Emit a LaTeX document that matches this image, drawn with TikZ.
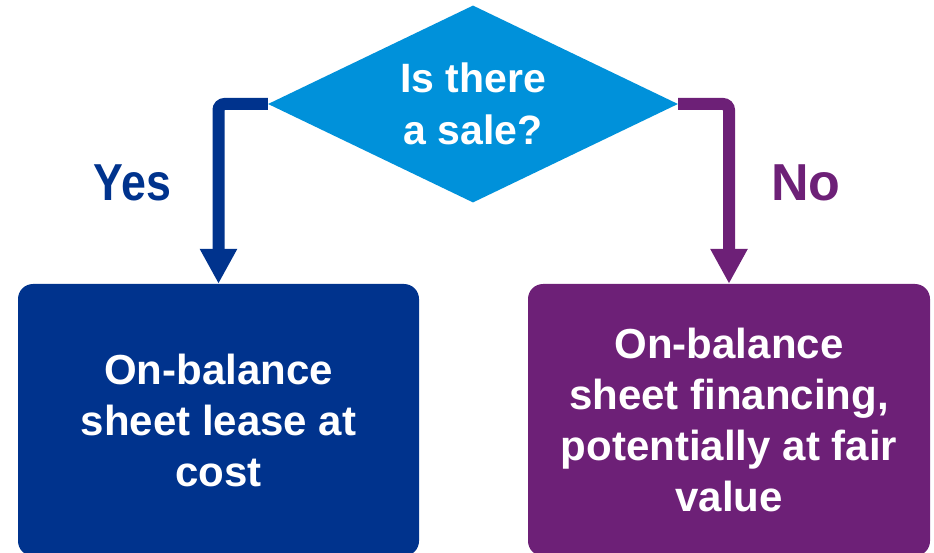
\documentclass[tikz,border=0pt]{standalone}
\usepackage{fontspec}
\setmainfont{Liberation Sans}
\usetikzlibrary{shapes.geometric,arrows.meta}
\definecolor{kblue}{HTML}{0091DA}
\definecolor{kdark}{HTML}{00338D}
\definecolor{kpurple}{HTML}{6D2077}
\tikzset{
  decision/.style={shape=diamond, fill=kblue, minimum width=410pt, minimum height=197pt, aspect=2.08, inner sep=0pt, text=white, align=center, font=\bfseries\fontsize{41}{52}\selectfont},
  outbox/.style={shape=rectangle, rounded corners=15pt, minimum height=272pt, inner sep=0pt, text=white, align=center, font=\bfseries\fontsize{42}{51}\selectfont},
  flow/.style={line width=12pt, rounded corners=6pt, -{Triangle[length=35pt,width=35pt]}},
  answer/.style={anchor=base, inner sep=0pt, font=\bfseries\fontsize{52}{60}\selectfont}
}
\begin{document}
\begin{tikzpicture}[x=1pt,y=-1pt]
\useasboundingbox (0,0) rectangle (934,553);
\node[decision] (dia) at (473,104) {Is there\\a sale?};
\node[outbox, fill=kdark, minimum width=401pt] (lbox) at (218.5,420) {On-balance\\sheet lease at\\cost};
\node[outbox, fill=kpurple, minimum width=402pt] (rbox) at (729,420) {On-balance\\sheet financing,\\potentially at fair\\value};
\draw[flow, draw=kdark] (dia.west) -| (lbox.north);
\draw[flow, draw=kpurple] (dia.east) -| (rbox.north);
\node[answer, text=kdark] (yes) at (132.5,201) {\scalebox{0.86}[1]{Yes}};
\node[answer, text=kpurple] (no) at (806,201) {No};
\end{tikzpicture}
\end{document}
